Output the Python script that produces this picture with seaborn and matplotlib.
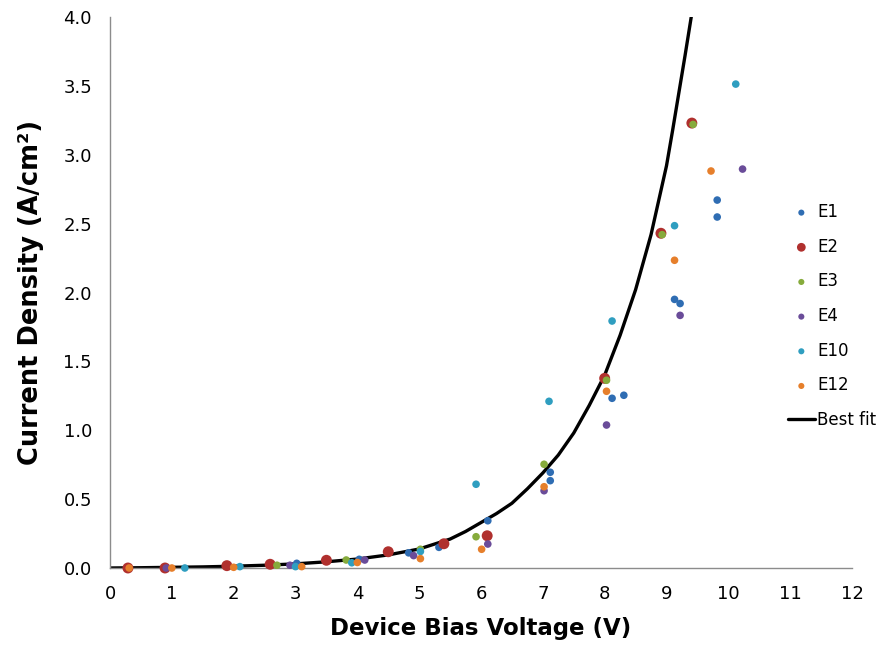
import numpy as np
import pandas as pd
import matplotlib
matplotlib.use("Agg")
import matplotlib.pyplot as plt
import seaborn as sns

# measured devices: bias voltage (V) and current density (A/cm2)
e1_v = [3.02, 4.03, 4.83, 5.32, 6.11, 7.12, 7.12, 8.12, 8.31, 9.13, 9.22, 9.82, 9.82]
e1_j = [0.034, 0.063, 0.11, 0.15, 0.343, 0.695, 0.634, 1.232, 1.254, 1.95, 1.92, 2.671, 2.548]

e2_v = [0.29, 0.89, 1.89, 2.59, 3.5, 4.5, 5.4, 6.10, 8.0, 8.91, 9.41]
e2_j = [0.0, 0.0, 0.017, 0.027, 0.056, 0.118, 0.176, 0.234, 1.377, 2.43, 3.23]

e3_v = [2.70, 3.82, 5.02, 5.92, 7.02, 8.03, 8.93, 9.43]
e3_j = [0.02, 0.058, 0.136, 0.227, 0.753, 1.363, 2.42, 3.22]

e4_v = [0.91, 2.91, 4.12, 4.91, 6.11, 7.02, 8.03, 9.22, 10.23]
e4_j = [0.0, 0.02, 0.058, 0.09, 0.174, 0.561, 1.038, 1.834, 2.896]

e10_v = [1.21, 2.1, 3.0, 3.91, 5.02, 5.92, 7.1, 8.12, 9.13, 10.12]
e10_j = [0.0, 0.01, 0.01, 0.038, 0.12, 0.608, 1.21, 1.793, 2.485, 3.513]

e12_v = [0.31, 1.0, 2.0, 3.1, 4.0, 5.02, 6.01, 7.02, 8.03, 9.13, 9.72]
e12_j = [0.0, 0.0, 0.005, 0.01, 0.04, 0.068, 0.136, 0.59, 1.283, 2.234, 2.882]

# best fit curve
fit_v = [0, 0.5, 1, 1.5, 2, 2.5, 3, 3.5, 4, 4.5, 5, 5.5, 5.75, 6, 6.25, 6.5, 6.75,
         7, 7.25, 7.5, 7.75, 8, 8.25, 8.5, 8.75, 9, 9.1, 9.2, 9.3, 9.4]
fit_j = [0.0, 0.002, 0.005, 0.008, 0.013, 0.02, 0.03, 0.045, 0.065, 0.095, 0.138, 0.21,
         0.265, 0.33, 0.395, 0.47, 0.575, 0.69, 0.82, 0.98, 1.18, 1.40, 1.69, 2.02, 2.42,
         2.92, 3.18, 3.45, 3.72, 4.0]

series = [
    ("E1", e1_v, e1_j, "#2f6db3", 30),
    ("E2", e2_v, e2_j, "#b0302e", 62),
    ("E3", e3_v, e3_j, "#86ab3c", 30),
    ("E4", e4_v, e4_j, "#6a4c99", 30),
    ("E10", e10_v, e10_j, "#2f9ec0", 30),
    ("E12", e12_v, e12_j, "#e67f2b", 30),
]

sns.set_style("white")
plt.rcParams['font.family'] = ['DejaVu Sans']
plt.rcParams['text.color'] = 'black'

fig = plt.figure(figsize=(8.9, 6.49), dpi=100)
ax = fig.add_axes([110/890, 81/649, 742/890, 551/649])

for name, v, j, col, size in series:
    sns.scatterplot(x=v, y=j, color=col, s=size, edgecolor="none", label=name,
                    ax=ax, clip_on=False, zorder=3)

sns.lineplot(x=fit_v, y=fit_j, color="black", linewidth=2.4, sort=False,
             label="Best fit", ax=ax, zorder=2)

ax.set_xlim(0, 12)
ax.set_ylim(0, 4)
ax.set_xticks(np.arange(0, 13, 1))
ax.set_yticks(np.arange(0, 4.01, 0.5))
ax.set_yticklabels([f"{t:.1f}" for t in np.arange(0, 4.01, 0.5)])

for side in ["top", "right"]:
    ax.spines[side].set_visible(False)
for side in ["left", "bottom"]:
    ax.spines[side].set_color("#8c8c8c")
    ax.spines[side].set_linewidth(1.0)
ax.tick_params(axis="both", direction="out", length=5, width=1, color="#8c8c8c",
               labelsize=13, labelcolor="black")
ax.tick_params(axis="x", pad=7)
ax.tick_params(axis="y", pad=8)

ax.set_xlabel("Device Bias Voltage (V)", fontsize=16.5, fontweight="bold",
              color="black", labelpad=10)
ax.set_ylabel("Current Density (A/cm²)", fontsize=18.5, fontweight="bold",
              color="black", labelpad=14)

leg = ax.legend(loc="upper left", bbox_to_anchor=(788/890, 1 - 203/649),
                bbox_transform=fig.transFigure, frameon=False, fontsize=12,
                labelspacing=1.0, handlelength=1.6, handletextpad=0.15,
                borderpad=0, borderaxespad=0, markerscale=0.8)
for t in leg.get_texts():
    t.set_color("black")

fig.savefig("out.png", dpi=100)
